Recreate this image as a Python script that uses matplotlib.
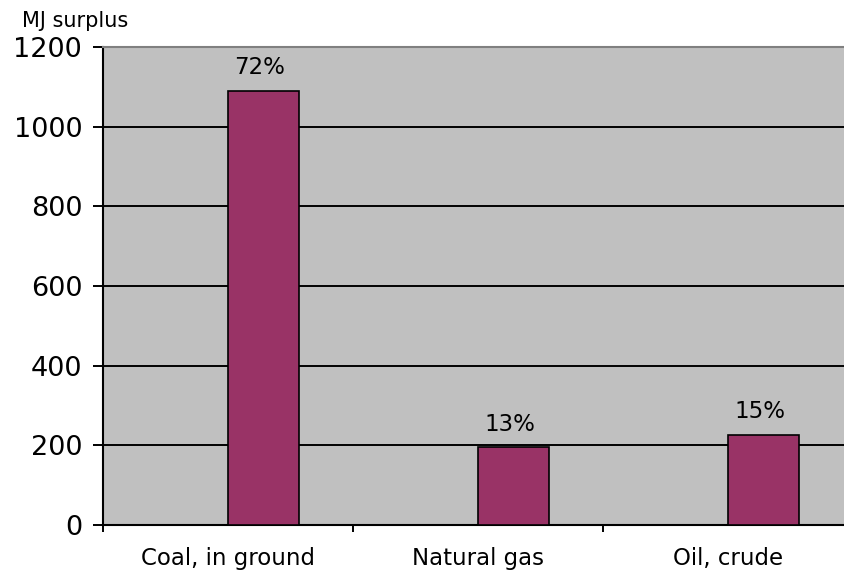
import matplotlib
matplotlib.use("Agg")
import matplotlib.pyplot as plt

categories = ["Coal, in ground", "Natural gas", "Oil, crude"]
surplus_mj = [1090, 195, 227]
y_ticks = [0, 200, 400, 600, 800, 1000, 1200]

plt.rcParams['font.family'] = ['DejaVu Sans']

fig = plt.figure(figsize=(8.45, 5.77), dpi=100)
ax = fig.add_axes([103 / 845, 52 / 577, 750 / 845, 478 / 577])
ax.set_facecolor('#C0C0C0')

bar_w = 1 / 3.5
x = list(range(len(categories)))
bars = ax.bar(x, surplus_mj, width=bar_w, align='edge', color='#993366',
              edgecolor='black', linewidth=1.2, zorder=3)

total = sum(surplus_mj)
for xi, v in zip(x, surplus_mj):
    pct = round(v / total * 100)
    ax.annotate(f"{pct}%", xy=(xi + bar_w / 2, v), xytext=(-3, 12),
                textcoords='offset points', ha='center', va='baseline',
                fontsize=16.5)

ax.set_xlim(-0.5, len(categories) - 0.5)
ax.set_ylim(0, 1200)
ax.set_yticks(y_ticks)
ax.set_yticklabels([str(t) for t in y_ticks], fontsize=19.5)
ax.tick_params(axis='y', direction='out', length=7, width=1.4, pad=8,
               colors='black')

# category boundaries carry the tick marks; names sit at centres
ax.set_xticks([i - 0.5 for i in range(len(categories) + 1)])
ax.set_xticklabels([])
ax.tick_params(axis='x', which='major', direction='out', length=5, width=1.4)
ax.set_xticks(x, minor=True)
ax.set_xticklabels(categories, minor=True, fontsize=16.5)
ax.tick_params(axis='x', which='minor', length=0, pad=16)

ax.set_axisbelow(True)
ax.yaxis.grid(True, color='black', linewidth=1.4)
ax.xaxis.grid(False)

for side in ('left', 'bottom'):
    ax.spines[side].set_color('black')
    ax.spines[side].set_linewidth(1.5)
ax.spines['top'].set_color('#808080')
ax.spines['top'].set_linewidth(1.5)
ax.spines['top'].set_zorder(4)
ax.spines['right'].set_color('#808080')
ax.spines['right'].set_linewidth(1.5)

fig.text(22 / 845, 1 - 21 / 577, "MJ surplus", fontsize=15, ha='left',
         va='center')

fig.savefig("out.png", dpi=100)
